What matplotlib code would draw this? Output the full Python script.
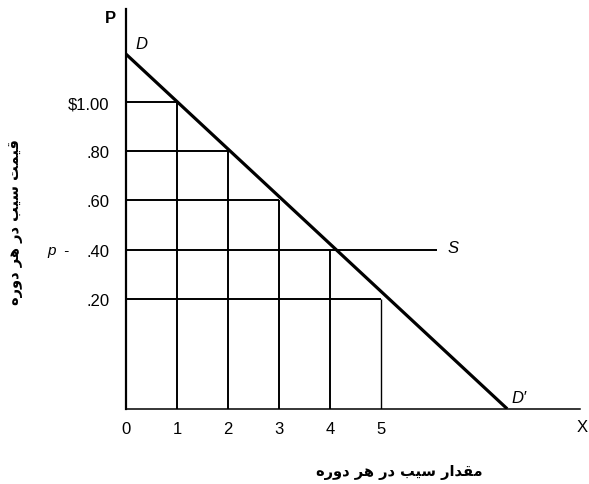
import matplotlib
matplotlib.use("Agg")
import matplotlib.pyplot as plt

plt.rcParams["font.family"] = ["Liberation Sans", "DejaVu Sans"]

# demand schedule: quantity bought at each price
quantity = [1, 2, 3, 4, 5]
price = [1.00, 0.80, 0.60, 0.40, 0.20]
price_labels = ["$1.00", ".80", ".60", ".40", ".20"]
qty_labels = ["0", "1", "2", "3", "4", "5"]

# demand curve end points D and D'
demand_q = [0.0, 7.47]
demand_p = [1.195, -0.248]

# horizontal supply at the market price p
supply_p = 0.40
supply_q_end = 6.1


def rtl(words):
    """Words already in presentation forms -> left-to-right visual string."""
    return " ".join(w[::-1] for w in reversed(words))


# قیمت سیب در هر دوره / مقدار سیب در هر دوره
W_QEYMAT = "\ufed7\ufef4\ufee4\ufe96"
W_MEQDAR = "\ufee3\ufed8\ufeaa\ufe8d\ufead"
W_SIB = "\ufeb3\ufef4\ufe90"
W_DAR = "\ufea9\ufead"
W_HAR = "\ufeeb\ufeae"
W_DOWRE = "\ufea9\ufeed\ufead\ufee9"
ylab = rtl([W_QEYMAT, W_SIB, W_DAR, W_HAR, W_DOWRE])
xlab = rtl([W_MEQDAR, W_SIB, W_DAR, W_HAR, W_DOWRE])

fig = plt.figure(figsize=(5.89, 4.85), dpi=100)
ax = fig.add_axes([0.214, 0.155, 0.771, 0.824])
ax.set_xlim(0, 8.9)
ax.set_ylim(-0.248, 1.378)

for s in ("top", "right"):
    ax.spines[s].set_visible(False)
ax.spines["left"].set_linewidth(1.6)
ax.spines["bottom"].set_linewidth(1.1)

# grid of the schedule: price rows out to the curve, quantity columns up to it
for i, (q, p) in enumerate(zip(quantity, price)):
    if p != supply_p:
        ax.plot([0, q], [p, p], color="black", lw=1.4, solid_capstyle="butt")
    ax.plot([q, q], [-0.248, p], color="black", lw=1.0 if i == 4 else 1.4,
            solid_capstyle="butt")
ax.plot([0, supply_q_end], [supply_p, supply_p], color="black", lw=1.4,
        solid_capstyle="butt")

ax.plot(demand_q, demand_p, color="black", lw=2.3, solid_capstyle="butt")

ax.set_yticks(price)
ax.set_yticklabels(price_labels, fontsize=12)
ax.set_xticks(range(len(qty_labels)))
ax.set_xticklabels(qty_labels, fontsize=12)
ax.tick_params(axis="y", length=0, pad=12)
ax.tick_params(axis="x", length=0, pad=9)

ax.text(-0.31, 1.345, "P", fontsize=12, fontweight="bold", ha="center", va="center",
        clip_on=False)
ax.text(8.93, -0.32, "X", fontsize=12, ha="center", va="center", clip_on=False)
ax.text(0.31, 1.24, "D", fontsize=12, style="italic", ha="center", va="center")
ax.text(7.7, -0.2, "D\u2032", fontsize=12, style="italic", ha="center", va="center")
ax.text(6.4, supply_p + 0.01, "S", fontsize=12, style="italic", ha="center", va="center")
ax.text(-1.1, supply_p, "p  -", fontsize=11, style="italic", ha="right", va="center",
        clip_on=False)

fig.text(399 / 589, 1 - 473 / 485, xlab, family="DejaVu Sans", fontsize=10.5,
         fontweight="bold", ha="center", va="center")
fig.text(16 / 589, 1 - 222 / 485, ylab, family="DejaVu Sans", fontsize=10.5,
         fontweight="bold", ha="center", va="center", rotation=90)

fig.savefig("out.png", dpi=100)
